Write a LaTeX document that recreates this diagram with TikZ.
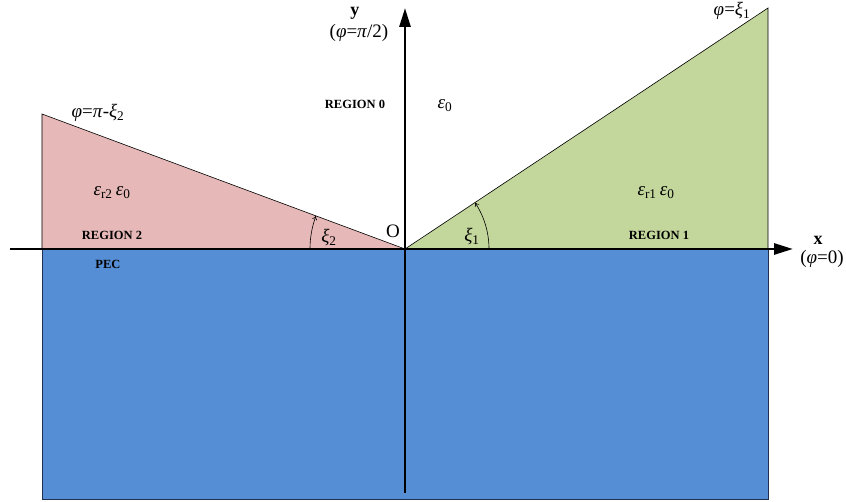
\documentclass[tikz,border=0pt]{standalone}
\usepackage{fontspec}
\setmainfont{Liberation Serif}
\usetikzlibrary{arrows.meta}
\definecolor{regtwo}{HTML}{E6B9B8}
\definecolor{regone}{HTML}{C3D69B}
\definecolor{pecblue}{HTML}{558ED5}
\definecolor{pecedge}{HTML}{1F3050}
\newcommand{\gk}[1]{\textit{#1}}
\newcommand{\sbs}[1]{\textsubscript{#1}}
\begin{document}
\begin{tikzpicture}[
  x=1pt, y=1pt,
  wedge/.style={draw=black, line width=0.6pt},
  axis/.style={line width=2.8pt, -{Triangle[length=19pt, width=11pt]}},
  angarrow/.style={line width=0.6pt, -{To[length=4pt, width=5pt]}},
  reglbl/.style={font=\fontsize{12.5}{14}\selectfont\bfseries, inner sep=0pt},
  gklbl/.style={font=\fontsize{19}{21}\selectfont, inner sep=0pt},
  axlbl/.style={font=\fontsize{18}{20}\selectfont\bfseries, inner sep=0pt}
]
\useasboundingbox (-405,-253) rectangle (441,249);

% corners of the regions
\coordinate (O) at (0,0);
\coordinate (L) at (-363,0);
\coordinate (LT) at (-363,135);
\coordinate (R) at (363,0);
\coordinate (RT) at (363,241);
\coordinate (LB) at (-363,-250);
\coordinate (RB) at (363,-250);

% === PEC half plane ===
\fill[pecblue] (LB) rectangle (R);
\draw[pecedge, line width=0.8pt] (L) -- (LB) -- (RB) -- (R);

% === Dielectric wedges ===
\draw[wedge, fill=regtwo] (L) -- (LT) -- (O) -- cycle;
\draw[wedge, fill=regone] (O) -- (R) -- (RT) -- cycle;

% === Axes ===
\coordinate (xs) at (-395,0);
\coordinate (xe) at (388,0);
\coordinate (ys) at (0,-244);
\coordinate (ye) at (0,241);
\draw[axis] (xs) -- (xe);
\draw[axis] (ys) -- (ye);

% Angles
\draw[angarrow] (O) ++(180:95) arc[start angle=180, end angle=159.6, radius=95];
\draw[angarrow] (O) ++(0:84) arc[start angle=0, end angle=33.6, radius=84];

% Labels
\node[axlbl] (ylbl) at (-50,236) {y};
\node[gklbl] (yphi) at (-46,216) {(\gk{φ}=\gk{π}/2)};
\node[axlbl] (xlbl) at (413,9) {x};
\node[gklbl] (xphi) at (417,-10) {(\gk{φ}=0)};
\node[gklbl] (olbl) at (-12,18) {O};

\node[reglbl] (reg0) at (-50,145) {REGION 0};
\node[gklbl] (eps0) at (40,143) {\gk{ε}\sbs{0}};

\node[gklbl] (phi2) at (-307,136) {\gk{φ}=\gk{π}-\gk{ξ}\sbs{2}};
\node[gklbl] (eps2) at (-293,56) {\gk{ε}\sbs{r2}\,\gk{ε}\sbs{0}};
\node[reglbl] (reg2) at (-293,14) {REGION 2};
\node[reglbl] (pec) at (-297,-15) {PEC};
\node[gklbl] (xi2) at (-76,11) {\gk{ξ}\sbs{2}};

\node[gklbl] (xi1) at (67,12) {\gk{ξ}\sbs{1}};
\node[gklbl] (eps1) at (251,56) {\gk{ε}\sbs{r1}\,\gk{ε}\sbs{0}};
\node[reglbl] (reg1) at (254,14) {REGION 1};
\node[gklbl] (phi1) at (327,238) {\gk{φ}=\gk{ξ}\sbs{1}};

\end{tikzpicture}
\end{document}
